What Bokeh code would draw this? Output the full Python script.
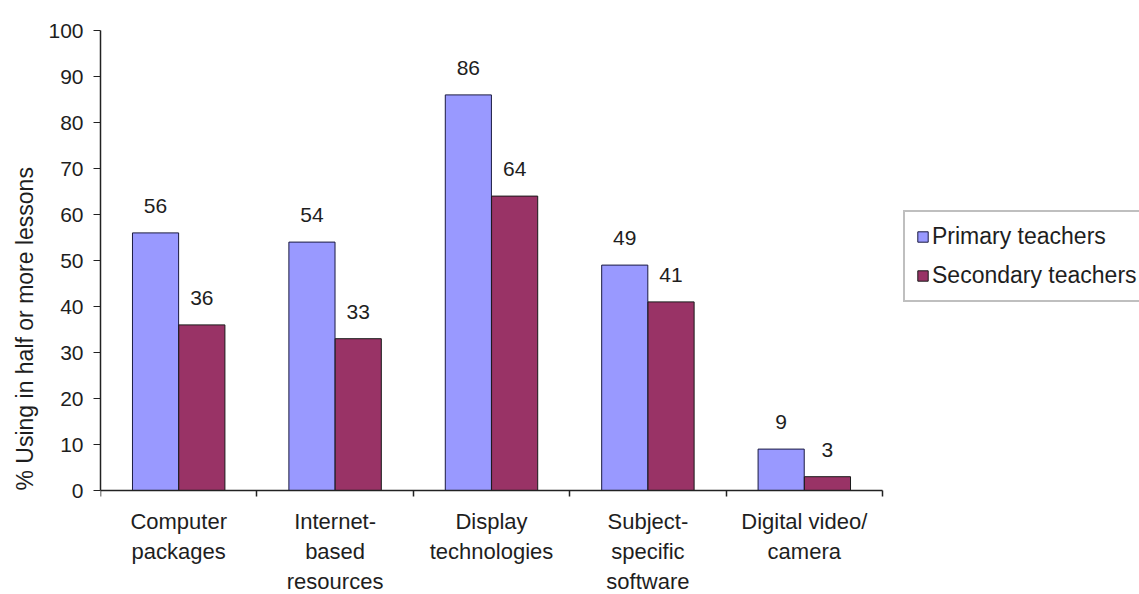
from bokeh.plotting import figure
from bokeh.models import (ColumnDataSource, FixedTicker, Legend, LegendItem,
                          LabelSet, Title, Range1d)
from bokeh.core.properties import value
from bokeh.transform import dodge
from bokeh.embed import file_html
from bokeh.resources import INLINE

categories = ["Computer\npackages", "Internet-\nbased\nresources", "Display\ntechnologies",
              "Subject-\nspecific\nsoftware", "Digital video/\ncamera"]
primary = [56, 54, 86, 49, 9]
secondary = [36, 33, 64, 41, 3]
series_names = ["Primary teachers", "Secondary teachers"]
y_ticks = [0, 10, 20, 30, 40, 50, 60, 70, 80, 90, 100]
y_title = "% Using in half or more lessons"

FONT = "Liberation Sans"
TXT = "#1e1e1e"
C_PRIM = "#9999FF"
C_SEC = "#993366"
FS = "21px"

n = len(categories)
pos = [i + 0.5 for i in range(n)]
src = ColumnDataSource(dict(x=pos, p=primary, s=secondary,
                            pl=[str(v) for v in primary], sl=[str(v) for v in secondary]))

# The frame spans the whole area right of / below the axes so that the legend and the
# category labels are not clipped; the axes are pinned at x=0 / y=0 and bounded.
cat_px = 156.4
px_per_unit = 4.6
p = figure(width=1139, height=594, output_backend="svg", toolbar_location=None,
           x_range=Range1d(0, 1039 / cat_px), y_range=Range1d(-104 / px_per_unit, 100),
           min_border_left=100, min_border_right=0, min_border_top=30, min_border_bottom=0)
p.outline_line_color = None
p.grid.visible = False
p.background_fill_color = "white"
p.border_fill_color = "white"

bw = 0.295
r1 = p.vbar(x=dodge("x", -0.148, range=p.x_range), top="p", width=bw, source=src,
            fill_color=C_PRIM, line_color="#1a1a40", line_width=1)
r2 = p.vbar(x=dodge("x", 0.148, range=p.x_range), top="s", width=bw, source=src,
            fill_color=C_SEC, line_color="#1a1a1a", line_width=1)

for col, lab, dx in (("p", "pl", -0.148), ("s", "sl", 0.148)):
    ls = LabelSet(x=dodge("x", dx, range=p.x_range), y=col, text=lab, source=src,
                  text_align="center", text_baseline="alphabetic", y_offset=20,
                  text_font=value(FONT), text_font_size=value(FS), text_color=TXT)
    p.add_layout(ls)

# y axis
ya = p.yaxis[0]
ya.bounds = (0, 100)
ya.ticker = FixedTicker(ticks=y_ticks)
ya.major_tick_in = 0
ya.major_tick_out = 7
ya.minor_tick_out = 0
ya.minor_tick_in = 0
ya.axis_line_color = "#222222"
ya.axis_line_width = 1.5
ya.major_tick_line_color = "#222222"
ya.major_label_text_font = FONT
ya.major_label_text_font_size = FS
ya.major_label_text_color = TXT
ya.major_label_standoff = 10

# x axis: pinned at y=0, labels at centers, tick marks at category boundaries
xa = p.xaxis[0]
xa.fixed_location = 0
xa.bounds = (0, n)
xa.ticker = FixedTicker(ticks=pos, minor_ticks=list(range(n + 1)))
xa.major_label_overrides = {pv: c for pv, c in zip(pos, categories)}
xa.major_tick_in = 0
xa.major_tick_out = 0
xa.minor_tick_in = 0
xa.minor_tick_out = 6
xa.minor_tick_line_color = "#222222"
xa.minor_tick_line_width = 1.5
xa.axis_line_color = "#222222"
xa.axis_line_width = 1.5
xa.major_label_text_font = FONT
xa.major_label_text_font_size = "22px"
xa.major_label_text_color = TXT
xa.major_label_standoff = 12
xa.major_label_text_line_height = 1.2

# y title in the left panel, starting level with y=0
p.add_layout(Title(text=y_title, align="left", offset=104, standoff=16,
                   text_font=FONT, text_font_size="23px", text_font_style="normal",
                   text_color=TXT), "left")

legend = Legend(items=[LegendItem(label=series_names[0], renderers=[r1]),
                       LegendItem(label=series_names[1], renderers=[r2])],
                location=(803, 292), orientation="vertical",
                label_text_font=FONT, label_text_font_size="23px", label_text_color=TXT,
                glyph_width=13, glyph_height=13, label_height=24, spacing=12,
                padding=11, margin=0, label_standoff=3,
                border_line_color="#808080", border_line_width=2,
                background_fill_color="white")
p.add_layout(legend, "center")

open("out.html", "w").write(file_html(p, INLINE))
